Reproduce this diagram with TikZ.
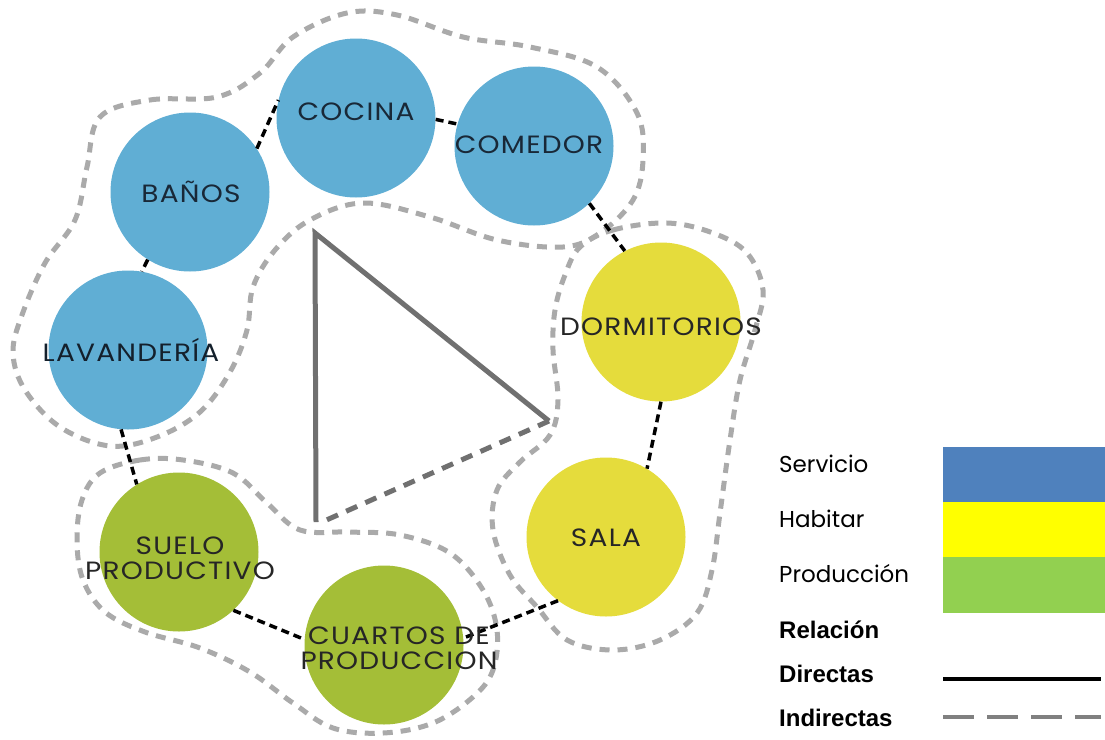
\documentclass[tikz,border=0pt]{standalone}
\usepackage{fontspec}
\setmainfont{Poppins}
\newfontfamily\roomfont[LetterSpace=5,FakeStretch=1.12]{Poppins}
\newfontfamily\legbold{Liberation Sans}
\begin{document}
\begin{tikzpicture}[x=1pt,y=-1pt,
  room/.style={circle,inner sep=0pt,minimum size=159pt,draw=none},
  roomtext/.style={font=\roomfont\fontsize{25}{25}\selectfont,align=center,inner sep=0pt},
  group/.style={draw=grp,line width=5pt,dash pattern=on 10pt off 8pt},
  rel/.style={draw=black,line width=3.5pt,dash pattern=on 8pt off 5pt},
  tri/.style={draw=trigray,line width=5pt},
  legtext/.style={anchor=west,inner sep=0pt,font=\fontsize{23}{25}\selectfont},
  legbf/.style={anchor=west,inner sep=0pt,font=\legbold\bfseries\fontsize{24}{26}\selectfont},
  legbox/.style={inner sep=0pt,minimum width=162pt,minimum height=55.5pt,anchor=north west}
]
\definecolor{cblue}{RGB}{96,174,212}
\definecolor{cyellow}{RGB}{229,220,60}
\definecolor{cgreen}{RGB}{164,190,55}
\definecolor{grp}{RGB}{170,170,170}
\definecolor{trigray}{RGB}{112,112,112}
\definecolor{navy}{RGB}{25,40,55}
\definecolor{lblue}{RGB}{79,129,189}
\definecolor{lyellow}{RGB}{255,255,0}
\definecolor{lgreen}{RGB}{146,208,80}
\definecolor{lgray}{RGB}{128,128,128}

\fill[white] (0,0) rectangle (1105,739);
\useasboundingbox (0,0) rectangle (1105,739);

% group outlines
\draw[group] plot[smooth cycle,tension=0.6] coordinates {
 (100,117) (150,100) (217,97) (260,73) (293,37) (347,13) (397,15) (463,37)
 (530,47) (597,67) (637,113) (643,160) (633,200) (600,233) (563,247) (497,240)
 (430,217) (363,203) (310,220) (275,250) (253,287) (247,330) (230,372) (200,412)
 (157,437) (110,446) (60,427) (25,390) (13,353) (22,315) (45,263) (75,220) (87,167)};
\draw[group] plot[smooth cycle,tension=0.6] coordinates {
 (580,247) (613,230) (667,223) (713,233) (747,253) (763,290) (755,330) (740,380)
 (730,440) (720,513) (712,570) (697,613) (660,640) (613,650) (567,640) (537,607)
 (510,575) (493,530) (497,490) (520,462) (550,435) (558,400) (553,350) (555,310) (565,275)};
\draw[group] plot[smooth cycle,tension=0.6] coordinates {
 (100,473) (140,460) (183,460) (233,473) (267,503) (300,530) (350,532) (400,535)
 (450,553) (483,590) (497,630) (493,670) (473,697) (433,723) (383,733) (333,728)
 (293,703) (250,672) (200,648) (145,632) (105,612) (83,580) (77,540) (82,500)};

% triangle
\coordinate (t1) at (315,233);
\coordinate (t2) at (549,421);
\coordinate (t3) at (316,522);
\coordinate (t4) at (322,522);
\draw[tri,line cap=butt] (t3) -- (t1) -- (t2);
\draw[tri,dash pattern=on 12pt off 9pt] (t2) -- (t4);

% rooms
\node[room,fill=cblue] (cocina) at (356,118) {};
\node[room,fill=cblue] (comedor) at (534,146) {};
\node[room,fill=cblue] (banos) at (190,192) {};
\node[room,fill=cblue] (lav) at (128,350) {};
\node[room,fill=cyellow] (dorm) at (661,322) {};
\node[room,fill=cyellow] (sala) at (606,537) {};
\node[room,fill=cgreen] (suelo) at (179,552) {};
\node[room,fill=cgreen] (cuartos) at (384,645) {};

% relations
\draw[rel] (banos.33) -- (cocina.167);
\draw[rel] (cocina.-1) -- (comedor.164);
\draw[rel] (comedor.-46) -- (dorm.117);
\draw[rel] (dorm.-90) -- (sala.59);
\draw[rel] (sala.-127) -- (cuartos.5);
\draw[rel] (suelo.-47) -- (cuartos.176);
\draw[rel] (lav.-95) -- (suelo.122);
\draw[rel] (banos.-122) -- (lav.80);

% room labels
\node[roomtext,text=navy] (tcocina) at (356,112) {COCINA};
\node[roomtext,text=navy] (tcomedor) at (529,145) {COMEDOR};
\node[roomtext,text=navy] (tbanos) at (191,192) {BAÑOS};
\node[roomtext,text=navy!80!black] (tlav) at (131,350) {LAVANDERÍA};
\node[roomtext,text=black!85] (tdorm) at (661,327) {DORMITORIOS};
\node[roomtext,text=black!85] (tsala) at (606,538) {SALA};
\node[roomtext,text=black!85] (tsuelo) at (180,558) {SUELO\\PRODUCTIVO};
\node[roomtext,text=black!85] (tcuartos) at (399,648) {CUARTOS DE\\PRODUCCION};

% legend
\node[legbox,fill=lblue] (bserv) at (943,447) {};
\node[legbox,fill=lyellow] (bhab) at (943,502) {};
\node[legbox,fill=lgreen] (bprod) at (943,557) {};
\node[legtext] (lserv) at (779,464) {Servicio};
\node[legtext] (lhab) at (779,519) {Habitar};
\node[legtext] (lprod) at (779,574) {Producción};
\node[legbf] (lrel) at (779,630) {Relación};
\node[legbf] (ldir) at (779,674) {Directas};
\node[legbf] (lind) at (779,718) {Indirectas};
\coordinate (d1) at (943,679);
\coordinate (d2) at (1101,679);
\coordinate (i1) at (943,717);
\coordinate (i2) at (1101,717);
\draw[black,line width=3.5pt] (d1) -- (d2);
\draw[lgray,line width=4pt,dash pattern=on 31pt off 13pt] (i1) -- (i2);
\end{tikzpicture}
\end{document}
